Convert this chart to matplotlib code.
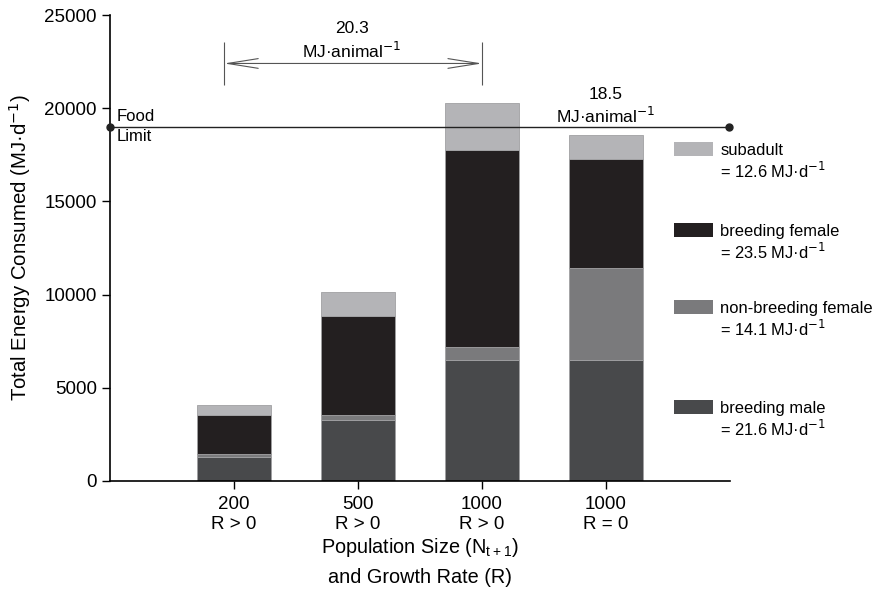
import matplotlib
matplotlib.use('Agg')
import matplotlib.pyplot as plt
from matplotlib.patches import Rectangle
import numpy as np

plt.rcParams['font.family'] = ['Liberation Sans', 'DejaVu Sans']

# ── DATA ──────────────────────────────────────────────────────
groups = ["200\nR > 0", "500\nR > 0", "1000\nR > 0", "1000\nR = 0"]
breeding_male = [1300, 3250, 6480, 6480]
nonbreeding_female = [140, 300, 705, 4935]
breeding_female = [2115, 5300, 10575, 5875]
subadult = [500, 1300, 2520, 1260]

food_limit = 19000
span_label = "20.3\nMJ·animal$^{-1}$"
r0_label = "18.5\nMJ·animal$^{-1}$"

series = [
    ("breeding male", "= 21.6 MJ·d$^{-1}$", breeding_male, "#48494b"),
    ("non-breeding female", "= 14.1 MJ·d$^{-1}$", nonbreeding_female, "#7a7a7c"),
    ("breeding female", "= 23.5 MJ·d$^{-1}$", breeding_female, "#231f20"),
    ("subadult", "= 12.6 MJ·d$^{-1}$", subadult, "#b4b4b7"),
]

# ── PLOT ──────────────────────────────────────────────────────
fig = plt.figure(figsize=(8.76, 5.93), dpi=100)
ax = fig.add_axes([0.1256, 0.1889, 0.7078, 0.7858])

x = np.arange(len(groups))
bottom = np.zeros(len(groups))
for name, rate, vals, col in series:
    ax.bar(x, vals, width=0.6, bottom=bottom, color=col,
           edgecolor="#a0a0a2", linewidth=0.6)
    bottom += np.array(vals)

ax.set_xlim(-1, 4)
ax.set_ylim(0, 25000)
ax.set_yticks(np.arange(0, 25001, 5000))
ax.set_xticks(x)
ax.set_xticklabels(groups, fontsize=13.5, linespacing=1.2)
ax.tick_params(axis='y', labelsize=13.5, length=6, width=1)
ax.tick_params(axis='x', length=6, width=1, pad=5)
for s in ['top', 'right']:
    ax.spines[s].set_visible(False)
for s in ['left', 'bottom']:
    ax.spines[s].set_linewidth(1.2)

ax.set_ylabel("Total Energy Consumed (MJ·d$^{-1}$)", fontsize=14.7, labelpad=8)
ax.set_xlabel("Population Size (N$_{\\mathregular{t+1}}$)\nand Growth Rate (R)",
              fontsize=14.3, linespacing=1.6, labelpad=2)

# food limit line
ax.plot([-1, 3.995], [food_limit, food_limit], color="#222222", lw=1,
        marker='o', markersize=5, clip_on=False, zorder=5)
ax.text(-0.95, food_limit + 130, "Food", fontsize=12, va='bottom', ha='left')
ax.text(-0.95, food_limit - 100, "Limit", fontsize=12, va='top', ha='left')

# span arrow for R > 0
ya = 22400
ax.vlines([-0.08, 2.0], 21250, 23550, color="#555555", lw=0.8)
ax.annotate("", xy=(-0.08, ya), xytext=(2.0, ya),
            arrowprops=dict(arrowstyle="<->,head_length=2.2,head_width=0.35",
                            color="#555555", lw=0.8, shrinkA=0, shrinkB=0))
ax.text(0.95, 22550, span_label, ha='center', va='bottom', fontsize=12.5,
        linespacing=1.25)
ax.text(3.0, food_limit + 20, r0_label, ha='center', va='bottom', fontsize=12.5,
        linespacing=1.25)

# legend
leg_y = [17810, 13470, 9340, 3970]
for (name, rate, vals, col), yy in zip(series[::-1], leg_y):
    ax.add_patch(Rectangle((3.55, yy - 375), 0.31, 750, facecolor=col,
                           edgecolor="none", clip_on=False))
    ax.text(3.92, yy + 330, name + "\n" + rate, ha='left', va='top',
            fontsize=11.9, linespacing=1.2)

fig.savefig("out.png", dpi=100)
